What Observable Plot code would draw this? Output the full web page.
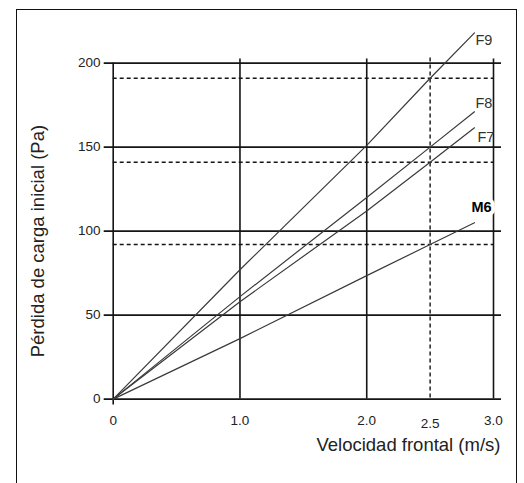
<!DOCTYPE html>
<html>
<head>
<meta charset="utf-8">
<script src="https://cdn.jsdelivr.net/npm/d3@7"></script>
<script src="https://cdn.jsdelivr.net/npm/@observablehq/plot@0.6"></script>
<style>
  html, body { margin: 0; padding: 0; background: #fff; overflow: hidden; }
  #wrap { position: relative; width: 524px; height: 483px; }
  #frame { position: absolute; left: 16px; top: 9px; width: 499px; height: 490px;
           border: 1.6px solid #111; border-bottom: none; pointer-events: none; }
  #chart { position: absolute; left: 0; top: 0; }
</style>
</head>
<body>
<div id="wrap"><div id="chart"></div><div id="frame"></div></div>
<script>
// ---- data ----
const seriesNames = ["F9", "F8", "F7", "M6"];
const velocity = [0, 1.0, 2.0, 2.5, 2.85];          // m/s
const lossF9 = [0, 77, 151, 191, 218];              // Pa
const lossF8 = [0, 61, 120, 150, 171];
const lossF7 = [0, 58, 112, 141, 161.5];
const lossM6 = [0, 36, 73.5, 92, 105];
const xTicks = [0, 1.0, 2.0, 3.0];
const xTickExtra = [2.5];
const yTicks = [0, 50, 100, 150, 200];
const refLoss = [191, 141, 92];                      // dashed reference levels
const refVelocity = [2.5];
const xTitle = "Velocidad frontal (m/s)";
const yTitle = "Pérdida de carga inicial (Pa)";

const lossBySeries = {F9: lossF9, F8: lossF8, F7: lossF7, M6: lossM6};
const rows = seriesNames.flatMap(s => velocity.map((v, i) => ({series: s, v, p: lossBySeries[s][i]})));
const ends = seriesNames.map(s => ({series: s, v: velocity[velocity.length - 1], p: lossBySeries[s][velocity.length - 1]}));

// label styling (offsets in px)
const labelStyle = {
  F9: {dx: 1, dy: 7, bold: false},
  F8: {dx: 1, dy: -8, bold: false},
  F7: {dx: 3, dy: 10, bold: false},
  M6: {dx: -3, dy: -15, bold: true}
};

const ink = "#151515";
const font = "'Liberation Sans', Arial, Helvetica, sans-serif";

const labelMarks = ends.map(d => Plot.text([d], {
  x: "v", y: "p", text: "series",
  textAnchor: "start",
  dx: labelStyle[d.series].dx, dy: labelStyle[d.series].dy,
  fontSize: 14.5,
  fontWeight: labelStyle[d.series].bold ? "bold" : "normal",
  fill: labelStyle[d.series].bold ? "#000" : "#333",
  ...(labelStyle[d.series].bold ? {stroke: "white", strokeWidth: 8} : {})
}));

const chart = Plot.plot({
  width: 524,
  height: 483,
  marginLeft: 112.7,
  marginRight: 31,
  marginTop: 62.6,
  marginBottom: 84.4,
  style: {background: "transparent", fontFamily: font, color: ink},
  x: {domain: [0, 3]},
  y: {domain: [0, 200]},
  marks: [
    Plot.ruleY(refLoss, {stroke: ink, strokeWidth: 1.4, strokeDasharray: "4,3"}),
    Plot.ruleX(refVelocity, {stroke: ink, strokeWidth: 1.4, strokeDasharray: "4,3", insetTop: -5}),
    Plot.ruleY(yTicks, {stroke: ink, strokeWidth: 1.6, insetLeft: -9, insetRight: -8}),
    Plot.ruleX(xTicks.filter(d => d !== 0), {stroke: ink, strokeWidth: 1.6, insetTop: -4}),
    Plot.ruleX([0], {stroke: ink, strokeWidth: 1.6, insetBottom: -6}),
    Plot.line(rows, {x: "v", y: "p", z: "series", stroke: "#3a3a3a", strokeWidth: 1.2}),
    ...labelMarks,
    Plot.axisX({ticks: xTicks, tickSize: 0, tickPadding: 16, fontSize: 13.5, label: null,
                tickFormat: d => d === 0 ? "0" : d.toFixed(1), fill: "#222"}),
    Plot.axisX({ticks: xTickExtra, tickSize: 0, tickPadding: 19, fontSize: 13.5, label: null,
                tickFormat: d => d.toFixed(1), fill: "#222"}),
    Plot.axisY({ticks: yTicks, tickSize: 0, tickPadding: 12.7, fontSize: 13.5, label: null,
                tickFormat: d => String(d), fill: "#222"}),
    Plot.text([xTitle], {text: d => d, frameAnchor: "bottom-right", textAnchor: "end",
                         dx: 7, dy: 52, fontSize: 18.5, fill: "#222"}),
    Plot.text([yTitle], {text: d => d, frameAnchor: "left", rotate: -90, textAnchor: "middle",
                         dx: -75, dy: 10, fontSize: 18.5, fill: "#222"})
  ]
});
document.getElementById("chart").appendChild(chart);
</script>
</body>
</html>
